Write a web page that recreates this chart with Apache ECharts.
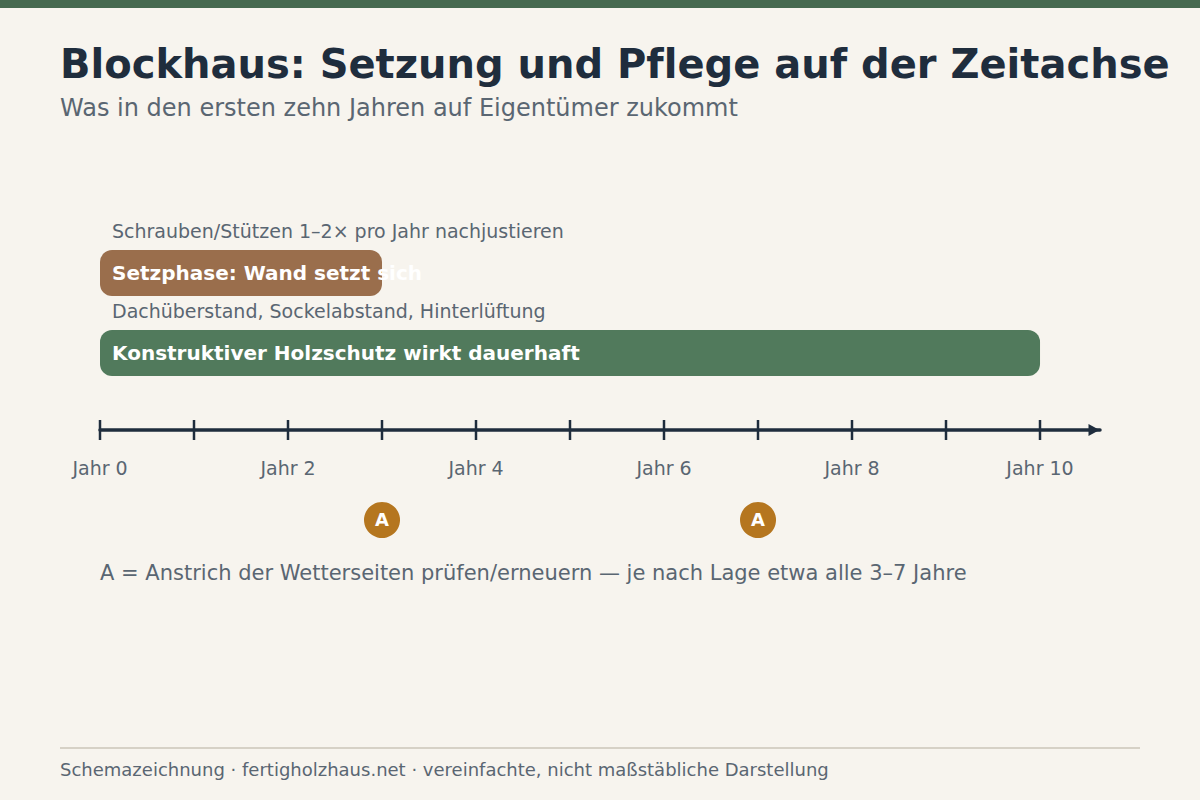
<!DOCTYPE html>
<html>
<head>
<meta charset="utf-8">
<title>Blockhaus: Setzung und Pflege auf der Zeitachse</title>
<script src="https://cdn.jsdelivr.net/npm/echarts@6/dist/echarts.min.js"></script>
<style>
  html, body { margin: 0; padding: 0; background: #F7F4EE; }
  #chart { width: 1200px; height: 800px; }
  /* keine fl-Ligatur im Titel */
  #chart svg text { font-variant-ligatures: none; }
</style>
</head>
<body>
<div id="chart"></div>
<script>
// Balken auf der Zeitachse (Jahre)
var barNames = ['Setzphase: Wand setzt sich', 'Konstruktiver Holzschutz wirkt dauerhaft'];
var barNotes = ['Schrauben/Stützen 1–2× pro Jahr nachjustieren', 'Dachüberstand, Sockelabstand, Hinterlüftung'];
var barStarts = [0, 0];
var barEnds = [3, 10];
var barColors = ['#9A6E4C', '#517A5C'];

// Achse
var tickYears = [0, 1, 2, 3, 4, 5, 6, 7, 8, 9, 10];
var labelYears = [0, 2, 4, 6, 8, 10];
var axisEnd = 10.638; // Pfeil läuft über Jahr 10 hinaus

// Anstrich-Marker
var paintYears = [3, 7];
var paintLabel = 'A';

var fontName = 'DejaVu Sans';
var dark = '#1F2D3D';
var grey = '#5A6672';

var myChart = echarts.init(document.getElementById('chart'), null, { renderer: 'svg' });

var barData = [];
for (var i = 0; i < barNames.length; i++) {
    barData.push([barStarts[i], barEnds[i], i, barNames[i], barNotes[i], barColors[i]]);
}

var paintData = [];
for (var j = 0; j < paintYears.length; j++) {
    paintData.push([paintYears[j], 0]);
}

function renderBar(params, api) {
    var start = api.coord([api.value(0), api.value(2)]);
    var end = api.coord([api.value(1), api.value(2)]);
    var h = 46;
    return {
        type: 'group',
        children: [
            {
                type: 'rect',
                shape: { x: start[0], y: start[1] - h / 2, width: end[0] - start[0], height: h, r: 12 },
                style: { fill: barData[params.dataIndex][5] }
            },
            {
                type: 'text',
                style: {
                    x: start[0] + 12, y: start[1],
                    text: barData[params.dataIndex][3],
                    fill: '#ffffff',
                    font: 'bold 20px "' + fontName + '"',
                    verticalAlign: 'middle'
                }
            },
            {
                type: 'text',
                style: {
                    x: start[0] + 12, y: start[1] - 42,
                    text: barData[params.dataIndex][4],
                    fill: grey,
                    font: '19px "' + fontName + '"',
                    verticalAlign: 'middle'
                }
            }
        ]
    };
}

var option = {
    backgroundColor: '#F7F4EE',
    animation: false,
    textStyle: { fontFamily: fontName },
    title: [
        {
            text: 'Blockhaus: Setzung und Pflege auf der Zeitachse',
            left: 60, top: 44, padding: 0,
            textStyle: { fontSize: 40, fontWeight: 'bold', color: dark, fontFamily: fontName }
        },
        {
            text: 'Was in den ersten zehn Jahren auf Eigentümer zukommt',
            left: 60, top: 96, padding: 0,
            textStyle: { fontSize: 24, fontWeight: 'normal', color: grey, fontFamily: fontName }
        }
    ],
    grid: [
        { left: 100, top: 193, width: 1000, height: 237 },
        { left: 100, top: 500, width: 1000, height: 40 }
    ],
    xAxis: [
        {
            type: 'value', gridIndex: 0, position: 'bottom', min: 0, max: axisEnd,
            splitLine: { show: false },
            axisLine: {
                show: true, onZero: false,
                symbol: ['none', 'triangle'], symbolSize: [12, 11], symbolOffset: [0, -6],
                lineStyle: { color: dark, width: 3.5 }
            },
            axisTick: { show: true, length: 10, customValues: tickYears, lineStyle: { color: dark, width: 2.49 } },
            axisLabel: {
                show: true, margin: 28, customValues: labelYears, color: grey, fontSize: 19, fontFamily: fontName,
                formatter: function(v) { return 'Jahr ' + v; }
            }
        },
        {
            type: 'value', gridIndex: 0, position: 'bottom', min: 0, max: axisEnd,
            splitLine: { show: false },
            axisLine: { show: false, onZero: false },
            axisTick: { show: true, inside: true, length: 10, customValues: tickYears, lineStyle: { color: dark, width: 2.49 } },
            axisLabel: { show: false }
        },
        {
            type: 'value', gridIndex: 1, min: 0, max: axisEnd, show: false
        }
    ],
    yAxis: [
        { type: 'value', gridIndex: 0, inverse: true, min: -1, max: 1.9625, show: false },
        { type: 'value', gridIndex: 1, min: -1, max: 1, show: false }
    ],
    series: [
        {
            type: 'custom',
            xAxisIndex: 0, yAxisIndex: 0,
            renderItem: renderBar,
            data: barData,
            encode: { x: [0, 1], y: 2 },
            clip: false
        },
        {
            type: 'scatter',
            xAxisIndex: 2, yAxisIndex: 1,
            symbol: 'circle',
            symbolSize: 36,
            itemStyle: { color: '#B5761F', opacity: 1 },
            label: {
                show: true, position: 'inside', formatter: paintLabel, offset: [0, -1],
                color: '#ffffff', fontSize: 18, fontWeight: 'bold', fontFamily: fontName
            },
            data: paintData
        }
    ],
    graphic: [
        { type: 'rect', left: 0, top: 0, shape: { width: 1200, height: 8 }, style: { fill: '#46694F' } },
        {
            type: 'text', left: 100, top: 562,
            style: {
                text: 'A = Anstrich der Wetterseiten prüfen/erneuern — je nach Lage etwa alle 3–7 Jahre',
                fill: grey, font: '21px "' + fontName + '"'
            }
        },
        { type: 'rect', left: 60, top: 747, shape: { width: 1080, height: 2 }, style: { fill: '#D6D1C6' } },
        {
            type: 'text', left: 60, top: 760,
            style: {
                text: 'Schemazeichnung · fertigholzhaus.net · vereinfachte, nicht maßstäbliche Darstellung',
                fill: grey, font: '18px "' + fontName + '"'
            }
        }
    ]
};

myChart.setOption(option);
</script>
</body>
</html>
